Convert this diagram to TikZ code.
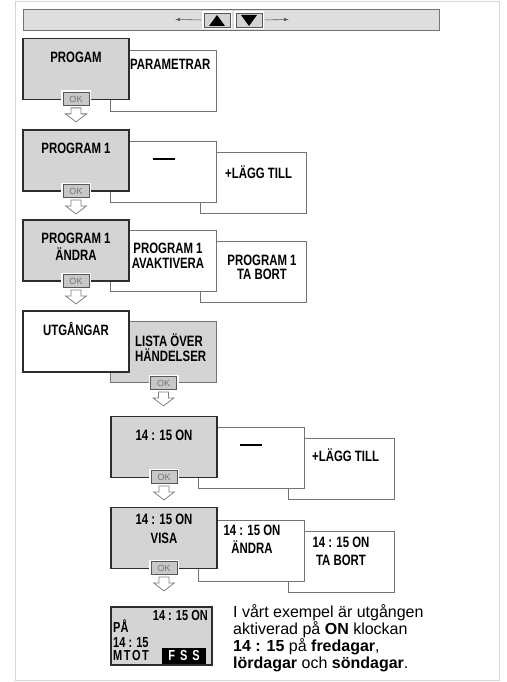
\documentclass[tikz,border=0pt]{standalone}
\usepackage{fontspec}
\setmainfont{Liberation Sans}
\newfontfamily\condfont[FakeStretch=0.76]{Liberation Sans}
\usetikzlibrary{arrows.meta}

\definecolor{boxgray}{RGB}{212,212,212}
\definecolor{bargray}{RGB}{222,222,222}
\definecolor{framegray}{RGB}{214,214,214}
\definecolor{edgegray}{RGB}{115,115,115}
\definecolor{darkedge}{RGB}{45,45,45}
\definecolor{okgray}{RGB}{200,200,200}

\tikzset{
  menu/.style={font=\condfont\bfseries\fontsize{15}{17}\selectfont, inner sep=0pt},
  dispmenu/.style={font=\condfont\bfseries\fontsize{14.5}{15}\selectfont, inner sep=0pt},
  frontbox/.style={draw=darkedge, fill=boxgray, line width=1.2pt, minimum width=106pt, minimum height=61pt, inner sep=0pt},
  whitebox/.style={frontbox, fill=white},
  backbox/.style={draw=edgegray, fill=white, line width=0.9pt, minimum width=106pt, minimum height=61pt, inner sep=0pt},
  graybox/.style={backbox, fill=boxgray},
  okbtn/.style={draw=darkedge!80, fill=okgray, line width=0.8pt, preaction={draw=white, line width=4pt},
    minimum width=26pt, minimum height=13pt, inner sep=0pt, text=edgegray, font=\fontsize{9}{9}\selectfont},
  godown/.pic={
    \draw[draw=edgegray!90, fill=white, line width=0.8pt, line join=miter]
      (-5,0) -- (5,0) -- (5,6) -- (10.5,6) -- (0,14) -- (-10.5,6) -- (-5,6) -- cycle;
  },
  keybtn/.style={draw=darkedge!80, fill=boxgray, line width=0.8pt, preaction={draw=white, line width=4pt},
    minimum width=26pt, minimum height=14pt, inner sep=0pt},
  bararrow/.style={draw=darkedge!80, line width=0.6pt, -{Latex[length=5pt,width=3.5pt]}, shorten <=2.5pt},
}

\begin{document}
\begin{tikzpicture}[x=1pt,y=-1pt]
\useasboundingbox (0,0) rectangle (506,682);
\draw[framegray, line width=1pt] (15,2) rectangle (499,680);

\begin{scope}
  \node[draw=edgegray, fill=bargray, line width=0.8pt, minimum width=416pt, minimum height=21pt, inner sep=0pt] (bar) at (231,19.5) {};
  \node[keybtn] (up) at (217,20) {};
  \node[keybtn] (down) at (249,20) {};
  \fill (up.center) ++(-8,6) -- ++(16,0) -- ++(-8,-11) -- cycle;
  \fill (down.center) ++(-8,-5) -- ++(16,0) -- ++(-8,11) -- cycle;
  \coordinate (barleft) at (175,19.5);
  \coordinate (barright) at (289,19.5);
  \draw[bararrow] (up.west) -- (barleft);
  \draw[bararrow] (down.east) -- (barright);
\end{scope}

\begin{scope}
  \node[backbox] (param) at (163.5,80.5) {};
  \node[frontbox] (progam) at (76,69) {};
  \node[menu] (progamtxt) at (76,57) {PROGAM};
  \node[menu, anchor=west] (paramtxt) at (130,64) {PARAMETRAR};
  \node[okbtn] (ok1) at (76,99) {OK};
  \pic at ([yshift=-2pt]ok1.south) {godown};
\end{scope}

\begin{scope}
  \node[backbox] (add1) at (253,182.5) {};
  \node[backbox] (empty1) at (163.5,172) {};
  \node[frontbox] (prog1) at (76,160.5) {};
  \node[menu] (prog1txt) at (76,148) {PROGRAM 1};
  \node[inner sep=0pt] (empty1txt) at (164,159) {\rule{22pt}{1.1pt}};
  \node[menu, anchor=west] (add1txt) at (225,172) {+LÄGG TILL};
  \node[okbtn] (ok2) at (76,191) {OK};
  \pic at ([yshift=-2pt]ok2.south) {godown};
\end{scope}

\begin{scope}
  \node[backbox] (delete1) at (253,272) {};
  \node[backbox] (deact1) at (163.5,261) {};
  \node[frontbox] (edit1) at (76,250.5) {};
  \node[menu, align=center] (edit1txt) at (76,247) {PROGRAM 1\\[0pt]ÄNDRA};
  \node[menu, align=center] (deact1txt) at (168,255.5) {PROGRAM 1\\[-2pt]AVAKTIVERA};
  \node[menu, align=center] (delete1txt) at (262,267) {PROGRAM 1\\[-3pt]TA BORT};
  \node[okbtn] (ok3) at (76,281) {OK};
  \pic at ([yshift=-2pt]ok3.south) {godown};
\end{scope}

\begin{scope}
  \node[graybox] (events) at (163.5,351.5) {};
  \node[whitebox] (outputs) at (76,341.5) {};
  \node[menu] (outputstxt) at (76,329) {UTGÅNGAR};
  \node[menu, align=left, anchor=west] (eventstxt) at (135,347.5) {LISTA ÖVER\\[-2pt]HÄNDELSER};
  \node[okbtn] (ok4) at (163.5,383) {OK};
  \pic at ([yshift=-2pt]ok4.south) {godown};
\end{scope}

\begin{scope}
  \node[backbox] (add2) at (341,468.5) {};
  \node[backbox] (empty2) at (251,457.5) {};
  \node[frontbox] (event1) at (164,447) {};
  \node[menu] (event1txt) at (164,435) {14 : 15 ON};
  \node[inner sep=0pt] (empty2txt) at (251,445) {\rule{22pt}{1.1pt}};
  \node[menu, anchor=west] (add2txt) at (312,455) {+LÄGG TILL};
  \node[okbtn] (ok5) at (164,477) {OK};
  \pic at ([yshift=-2pt]ok5.south) {godown};
\end{scope}

\begin{scope}
  \node[backbox] (delete2) at (341,561.5) {};
  \node[backbox] (edit2) at (251,550.5) {};
  \node[frontbox] (show2) at (164,538) {};
  \node[menu, align=center] (show2txt) at (164,528.5) {14 : 15 ON\\[2pt]VISA};
  \node[menu, align=center] (edit2txt) at (252,539) {14 : 15 ON\\[1pt]ÄNDRA};
  \node[menu, align=center] (delete2txt) at (341,551) {14 : 15 ON\\[1pt]TA BORT};
  \node[okbtn] (ok6) at (164,568) {OK};
  \pic at ([yshift=-2pt]ok6.south) {godown};
\end{scope}

\begin{scope}
  \node[draw=darkedge, fill=boxgray, line width=1.2pt, minimum width=101pt, minimum height=58pt, inner sep=0pt] (display) at (161.5,636) {};
  \node[dispmenu, anchor=base east] (disptime) at (208,620) {14 : 15 ON};
  \node[dispmenu, anchor=base west] (dispon) at (113,632.5) {PÅ};
  \node[dispmenu, anchor=base west] (dispclock) at (113,647) {14 : 15};
  \node[dispmenu, anchor=base west] (dispdays) at (113,660.5) {M\kern1.5pt T\kern1.5pt O\kern1.5pt T};
  \node[fill=black, minimum width=44pt, minimum height=16pt, inner sep=0pt] (dispweekend) at (184,656) {};
  \node[dispmenu, text=white, anchor=base] (dispweekendtxt) at (184,660.5) {F\kern5pt S\kern5pt S};
  \node[anchor=north west, align=left, inner sep=0pt, font=\fontsize{16}{17}\selectfont] (note) at (233,604)
    {I vårt exempel är utgången\\aktiverad på \textbf{ON} klockan\\\textbf{14 : 15} på \textbf{fredagar},\\\textbf{lördagar} och \textbf{söndagar}.};
\end{scope}

\end{tikzpicture}
\end{document}
